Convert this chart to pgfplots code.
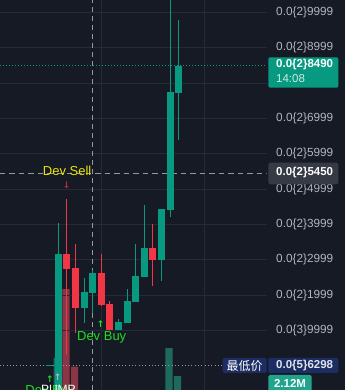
\documentclass[border=0pt]{standalone}
\usepackage{pgfplots}
\pgfplotsset{compat=1.18}
\usepackage{pgfplotstable}
\usepackage{fontspec}
\setmainfont{Liberation Sans}
\newfontfamily\cjk{Noto Sans CJK SC}
\newfontfamily\dejavu{DejaVu Sans}
\definecolor{bgc}{HTML}{161A25}
\definecolor{gridc}{HTML}{262A35}
\definecolor{cgreen}{HTML}{089981}
\definecolor{cred}{HTML}{F23645}
\definecolor{vgreen}{HTML}{1E6B5E}
\definecolor{vred}{HTML}{8A3646}
\definecolor{tickc}{HTML}{B2B5BE}
\definecolor{dashc}{HTML}{9598A1}
\definecolor{navy}{HTML}{1C2D63}
\definecolor{boxgray}{HTML}{363A45}
\definecolor{volbox}{HTML}{22A38D}
\definecolor{devsell}{HTML}{E6E600}
\definecolor{devbuy}{HTML}{22DD22}
\definecolor{arrred}{HTML}{B03040}

% prices in units of 0.001
\pgfplotstableread{
x o h l c
49.7 0.00 0.03 0.00 0.03
58.3 -0.8 4.03 -0.8 3.16
84.1 1.64 2.48 1.22 2.08
92.6 2.065 2.71 1.48 2.62
118.4 1.02 1.33 1.02 1.24
127.0 1.22 2.17 1.22 1.83
135.6 1.81 3.44 1.81 2.54
144.2 2.52 4.55 2.52 3.33
161.4 3.00 4.43 2.40 4.43
170.0 4.40 10.6 4.215 7.74
178.5 7.72 9.78 6.39 8.49
}\greentab
\pgfplotstableread{
x o h l c
66.9 3.16 4.72 0.30 2.735
75.5 2.76 3.44 0.93 1.64
101.8 2.62 3.16 1.70 1.725
109.8 1.75 1.84 1.00 1.02
152.8 3.33 4.01 2.25 3.00
}\redtab
% volume in millions
\pgfplotstableread{
x v
57.3 4.89
169.0 6.36
177.5 2.12
}\volgreen
\pgfplotstableread{
x v
65.9 15.29
74.5 3.53
}\volred

\begin{document}
\begin{tikzpicture}
\fill[bgc] (0,0) rectangle (345pt,390pt);
% volume pane
\begin{axis}[at={(0,0)}, anchor=south west, width=266.7pt, height=390pt,
  scale only axis, xmin=0, xmax=266.7, ymin=0, ymax=59.06, hide axis]
\addplot[ybar, bar width=7.3pt, bar shift=0pt, fill=vgreen, draw=none] table[x=x,y=v]{\volgreen};
\addplot[ybar, bar width=7.3pt, bar shift=0pt, fill=vred, draw=none] table[x=x,y=v]{\volred};
\end{axis}
% price pane
\begin{axis}[at={(0,0)}, anchor=south west, width=266.7pt, height=390pt,
  scale only axis, xmin=0, xmax=266.7, ymin=-0.688, ymax=10.347,
  axis line style={draw=none}, major tick length=0pt,
  xtick={101,204.3}, xticklabels={}, xmajorgrids, ymajorgrids,
  grid style={gridc, line width=0.8pt},
  ytick={0.9999,1.999,2.999,3.999,4.999,5.999,6.999,7.999,8.999,9.999},
  yticklabels={0.0\{3\}9999,0.0\{2\}1999,0.0\{2\}2999,0.0\{2\}3999,0.0\{2\}4999,0.0\{2\}5999,0.0\{2\}6999,{},0.0\{2\}8999,0.0\{2\}9999},
  yticklabel pos=right,
  yticklabel style={anchor=west, inner sep=0pt, xshift=9.3pt, font=\fontsize{11.8}{12}\selectfont, text=tickc},
]
\addplot[dashc, line width=0.9pt, dash pattern=on 5pt off 4pt] coordinates {(92.3,-0.688) (92.3,10.347)};
\addplot[dashc, line width=0.9pt, dash pattern=on 5.5pt off 4pt] coordinates {(0,5.45) (266.7,5.45)};
\addplot[cgreen, line width=0.8pt, dash pattern=on 1pt off 2pt] coordinates {(0,8.49) (266.7,8.49)};
\addplot[dashc, line width=0.8pt, dash pattern=on 1pt off 2.3pt] coordinates {(0,0.0006) (222.7,0.0006)};
% wicks
\addplot[draw=none, mark=none, error bars/.cd, y dir=plus, y explicit, error mark=none,
  error bar style={draw=cgreen, line width=1pt}]
  table[x=x, y=l, y error plus expr=\thisrow{h}-\thisrow{l}] {\greentab};
\addplot[draw=none, mark=none, error bars/.cd, y dir=plus, y explicit, error mark=none,
  error bar style={draw=cred, line width=1pt}]
  table[x=x, y=l, y error plus expr=\thisrow{h}-\thisrow{l}] {\redtab};
% bodies
\addplot[draw=none, mark=none, error bars/.cd, y dir=plus, y explicit, error mark=none,
  error bar style={draw=cgreen, line width=7pt}]
  table[x=x, y=o, y error plus expr=\thisrow{c}-\thisrow{o}] {\greentab};
\addplot[draw=none, mark=none, error bars/.cd, y dir=plus, y explicit, error mark=none,
  error bar style={draw=cred, line width=7pt}]
  table[x=x, y=c, y error plus expr=\thisrow{o}-\thisrow{c}] {\redtab};
% annotations
\node[anchor=base, text=devsell, font=\fontsize{13}{14}\selectfont, inner sep=0pt] at (axis cs:67.2,5.375) {Dev Sell};
\node[text=arrred, font=\dejavu\fontsize{9}{10}\selectfont\bfseries, inner sep=0pt] at (axis cs:66.7,5.098) {↓};
\node[anchor=base, text=devbuy, font=\fontsize{13}{14}\selectfont, inner sep=0pt] at (axis cs:101.7,0.706) {Dev Buy};
\node[text=devbuy, font=\dejavu\fontsize{9}{10}\selectfont\bfseries, inner sep=0pt] at (axis cs:100.7,1.165) {↑};
\node[anchor=base, text=devbuy, font=\fontsize{13}{14}\selectfont, inner sep=0pt] at (axis cs:50,-0.813) {Dev Buy};
\node[anchor=base, text=white, font=\fontsize{12}{13}\selectfont, inner sep=0pt] at (axis cs:58.4,-0.80) {PUMP};
\node[text=devbuy, font=\dejavu\fontsize{9}{10}\selectfont\bfseries, inner sep=0pt] at (axis cs:50,-0.377) {↑};
\node[text=tickc, font=\dejavu\fontsize{9}{10}\selectfont\bfseries, inner sep=0pt] at (axis cs:57.7,-0.312) {↑};
\end{axis}
% price tags on the right
\fill[cgreen, rounded corners=1.5pt] (268.3pt,302.3pt) rectangle (338.3pt,332.7pt);
\node[anchor=west, text=white, font=\fontsize{11.5}{12}\selectfont\bfseries, inner sep=0pt] at (276pt,325pt) {0.0\{2\}8490};
\node[anchor=west, text={rgb,255:red,205;green,235;blue,228}, font=\fontsize{11.5}{12}\selectfont, inner sep=0pt] at (276pt,311pt) {14:08};
\fill[boxgray, rounded corners=1.5pt] (268.3pt,205.7pt) rectangle (338.3pt,227.3pt);
\node[anchor=west, text=white, font=\fontsize{11.5}{12}\selectfont\bfseries, inner sep=0pt] at (276pt,217pt) {0.0\{2\}5450};
\fill[navy, rounded corners=1.5pt] (268.3pt,17pt) rectangle (338.3pt,32pt);
\node[anchor=west, text={rgb,255:red,225;green,228;blue,235}, font=\fontsize{11.5}{12}\selectfont\bfseries, inner sep=0pt] at (276pt,24.5pt) {0.0\{5\}6298};
\fill[navy, rounded corners=1.5pt] (222.7pt,17pt) rectangle (266.7pt,32pt);
\node[text=white, font=\cjk\fontsize{12}{13}\selectfont, inner sep=0pt] at (244.7pt,24.5pt) {最低价};
\fill[volbox, rounded corners=1.5pt] (268.3pt,-2pt) rectangle (311.7pt,15pt);
\node[text=white, font=\fontsize{11.5}{12}\selectfont\bfseries, inner sep=0pt] at (290pt,7pt) {2.12M};
\pgfresetboundingbox
\path[use as bounding box] (0,0) rectangle (345pt,390pt);
\end{tikzpicture}
\end{document}
